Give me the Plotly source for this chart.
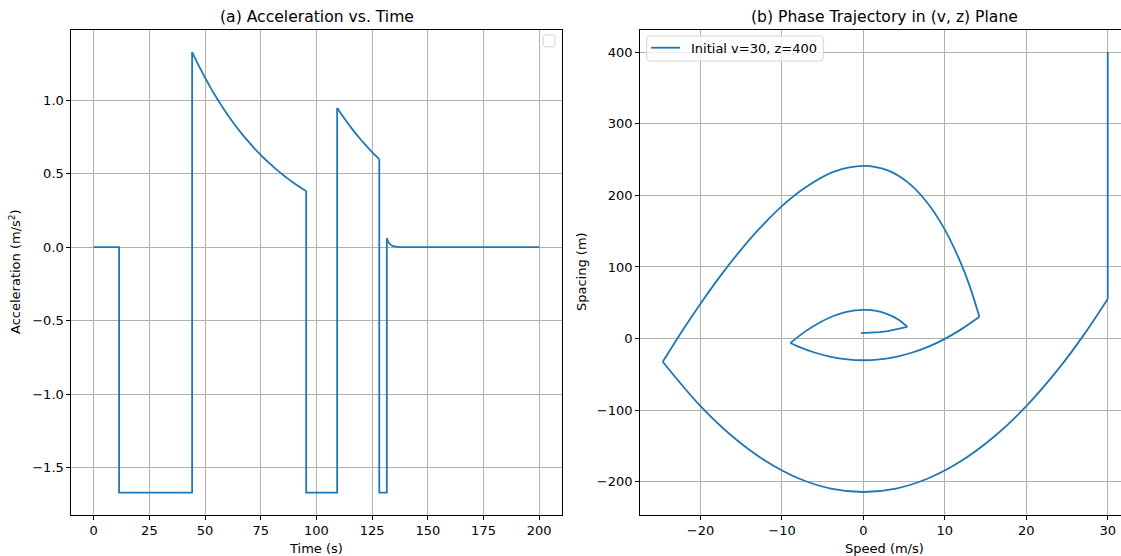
import plotly.graph_objects as go

# ---------------- data ----------------
# (a) acceleration vs time: piecewise-constant parts (None = break between pieces)
step_t = [0, 11.4, 11.4, 44.2, 44.2, None,
          95.4, 95.4, 109.3, 109.3, None,
          128.2, 128.2, 131.6, 131.6, None,
          140.0, 200.0]
step_a = [0, 0, -1.67, -1.67, 1.328, None,
          0.382, -1.67, -1.67, 0.948, None,
          0.599, -1.67, -1.67, 0.061, None,
          0, 0]
# smoothly decaying parts
decay1_t = [44.2, 46.2, 48.2, 50.2, 52.2, 54.2, 56.7, 59.2, 61.7, 64.2, 66.7, 69.2, 71.7,
            74.2, 76.7, 79.2, 81.7, 84.2, 86.7, 89.2, 92.2, 95.4]
decay1_a = [1.328, 1.265, 1.205, 1.148, 1.093, 1.041, 0.980, 0.922, 0.868, 0.816, 0.768,
            0.723, 0.680, 0.640, 0.602, 0.567, 0.533, 0.502, 0.472, 0.444, 0.413, 0.382]
decay2_t = [109.3, 111.3, 113.3, 115.3, 117.3, 119.3, 121.3, 123.3, 125.3, 128.2]
decay2_a = [0.948, 0.903, 0.860, 0.819, 0.780, 0.743, 0.708, 0.674, 0.642, 0.599]
decay3_t = [131.6, 132.2, 133.0, 134.0, 135.0, 136.5, 138.0, 140.0]
decay3_a = [0.061, 0.040, 0.022, 0.010, 0.005, 0.002, 0.0006, 0]

# (b) phase trajectory, split into its smooth pieces
coast_v = [30, 30]
coast_z = [400, 55.4]
brake1_v = [30, 27, 24, 20, 16, 12, 8, 4, 0, -4, -8, -12, -16, -20, -24.64]
brake1_z = [55.4, 4.2, -41.6, -94.3, -137.4, -170.9, -194.9, -209.3, -214.1, -209.3,
            -194.9, -170.9, -137.4, -94.3, -32.3]
accel1_v = [-24.64, -22.05, -19.58, -17.23, -14.99, -12.86, -9.84, -7.04, -3.61, 0, 2.99,
            5.49, 7.75, 9.81, 11.68, 12.97, 14.24]
accel1_z = [-32.3, 14.2, 55.7, 92.5, 124.6, 152.4, 186.7, 211.7, 233.1, 241.2, 234.8,
            217.8, 191.1, 156.0, 112.9, 76.0, 30.5]
brake2_v = [14.24, 12, 10, 8, 6, 4, 2, 0, -2, -4, -6, -8, -8.97]
brake2_z = [30.5, 12.9, -0.3, -11.1, -19.4, -25.4, -29.0, -30.2, -29.0, -25.4, -19.4, -11.1, -6.1]
accel2_v = [-8.97, -7.12, -5.36, -3.68, -2.08, 0, 1.60, 2.94, 4.23, 5.39]
accel2_z = [-6.1, 10.1, 22.5, 31.6, 37.3, 40.2, 38.7, 34.2, 27.0, 16.5]
brake3_v = [5.39, 4, 3, 2, 1, 0, -0.3, 0]
brake3_z = [16.5, 12.6, 10.5, 9.0, 8.1, 7.8, 7.8, 7.6]

time_ticks = [0, 25, 50, 75, 100, 125, 150, 175, 200]
accel_ticks = [-1.5, -1.0, -0.5, 0.0, 0.5, 1.0]
speed_ticks = [-20, -10, 0, 10, 20, 30]
spacing_ticks = [-200, -100, 0, 100, 200, 300, 400]

legend_label = "Initial v=30, z=400"

# ---------------- layout helpers ----------------
W, H = 1121, 556
BLUE = "#1f77b4"
FONT = "DejaVu Sans"
LW = 1.8


def px(x):
    return x / W


def py(y):
    return 1 - y / H


fig = go.Figure()
fig.add_trace(go.Scatter(x=step_t, y=step_a, mode="lines", connectgaps=False,
                         line=dict(color=BLUE, width=LW), xaxis="x", yaxis="y",
                         showlegend=False))
for tt, aa in [(decay1_t, decay1_a), (decay2_t, decay2_a), (decay3_t, decay3_a)]:
    fig.add_trace(go.Scatter(x=tt, y=aa, mode="lines",
                             line=dict(color=BLUE, width=LW, shape="spline"),
                             xaxis="x", yaxis="y", showlegend=False))

pieces = [(coast_v, coast_z, "linear"), (brake1_v, brake1_z, "spline"),
          (accel1_v, accel1_z, "spline"), (brake2_v, brake2_z, "spline"),
          (accel2_v, accel2_z, "spline"), (brake3_v, brake3_z, "linear")]
for vv, zz, shape in pieces:
    fig.add_trace(go.Scatter(x=vv, y=zz, mode="lines",
                             line=dict(color=BLUE, width=LW, shape=shape),
                             xaxis="x2", yaxis="y2", name=legend_label,
                             legendgroup="traj", showlegend=False))

axis_common = dict(showgrid=True, gridcolor="#b0b0b0", gridwidth=0.9, zeroline=False,
                   showline=True, linecolor="black", linewidth=1, mirror=True,
                   ticks="outside", ticklen=4, tickwidth=1, tickcolor="black",
                   tickfont=dict(family=FONT, size=13, color="black"))

fig.update_layout(
    width=W, height=H, autosize=False,
    margin=dict(l=0, r=0, t=0, b=0),
    paper_bgcolor="white", plot_bgcolor="white",
    font=dict(family=FONT, size=13, color="black"),
    showlegend=False,
    xaxis=dict(domain=[px(71.4), px(561.5)], range=[-10, 210], tickvals=time_ticks,
               anchor="y", **axis_common),
    yaxis=dict(domain=[py(514.7), py(30)], range=[-1.82, 1.478], tickvals=accel_ticks,
               tickformat=".1f", anchor="x", **axis_common),
    xaxis2=dict(domain=[px(640.1), 1.0], range=[-27.42, 31.63], tickvals=speed_ticks,
                anchor="y2", **axis_common),
    yaxis2=dict(domain=[py(514.7), py(30)], range=[-245.8, 430.8], tickvals=spacing_ticks,
                anchor="x2", **axis_common),
)

ann = []
ann.append(dict(text="(a) Acceleration vs. Time", x=px(316.5), y=py(17), xref="paper", yref="paper",
                showarrow=False, font=dict(size=15.6), xanchor="center", yanchor="middle"))
ann.append(dict(text="(b) Phase Trajectory in (v, z) Plane", x=px(884.5), y=py(17), xref="paper",
                yref="paper", showarrow=False, font=dict(size=15.6), xanchor="center", yanchor="middle"))
ann.append(dict(text="Time (s)", x=px(316), y=py(548), xref="paper", yref="paper",
                showarrow=False, font=dict(size=13), xanchor="center", yanchor="middle"))
ann.append(dict(text="Speed (m/s)", x=px(884), y=py(548), xref="paper", yref="paper",
                showarrow=False, font=dict(size=13), xanchor="center", yanchor="middle"))
ann.append(dict(text="Acceleration (m/s<sup>2</sup>)", x=px(15), y=py(272), xref="paper",
                yref="paper", showarrow=False, font=dict(size=13), textangle=-90,
                xanchor="center", yanchor="middle"))
ann.append(dict(text="Spacing (m)", x=px(581), y=py(272), xref="paper", yref="paper",
                showarrow=False, font=dict(size=13), textangle=-90,
                xanchor="center", yanchor="middle"))
# legend text of panel (b)
ann.append(dict(text=legend_label, x=px(688.5), y=py(48.3), xref="paper", yref="paper",
                showarrow=False, font=dict(size=13), xanchor="left", yanchor="middle"))
fig.update_layout(annotations=ann)


def rounded_box(x0, y0, x1, y1, r):
    return (f"M {px(x0+r)},{py(y0)} L {px(x1-r)},{py(y0)} Q {px(x1)},{py(y0)} {px(x1)},{py(y0+r)} "
            f"L {px(x1)},{py(y1-r)} Q {px(x1)},{py(y1)} {px(x1-r)},{py(y1)} "
            f"L {px(x0+r)},{py(y1)} Q {px(x0)},{py(y1)} {px(x0)},{py(y1-r)} "
            f"L {px(x0)},{py(y0+r)} Q {px(x0)},{py(y0)} {px(x0+r)},{py(y0)} Z")


# empty legend box of panel (a)
fig.add_shape(type="path", path=rounded_box(543.3, 35.0, 555.0, 46.7, 2), xref="paper",
              yref="paper", line=dict(color="#d5d5d5", width=1), fillcolor="rgba(255,255,255,0.8)")
# legend box of panel (b)
fig.add_shape(type="path", path=rounded_box(646.7, 36.0, 823.3, 61.0, 3), xref="paper",
              yref="paper", line=dict(color="#d5d5d5", width=1), fillcolor="rgba(255,255,255,0.8)")
fig.add_shape(type="line", x0=px(651), x1=px(680), y0=py(47.7), y1=py(47.7), xref="paper",
              yref="paper", line=dict(color=BLUE, width=LW))

fig.write_html("out.html")
